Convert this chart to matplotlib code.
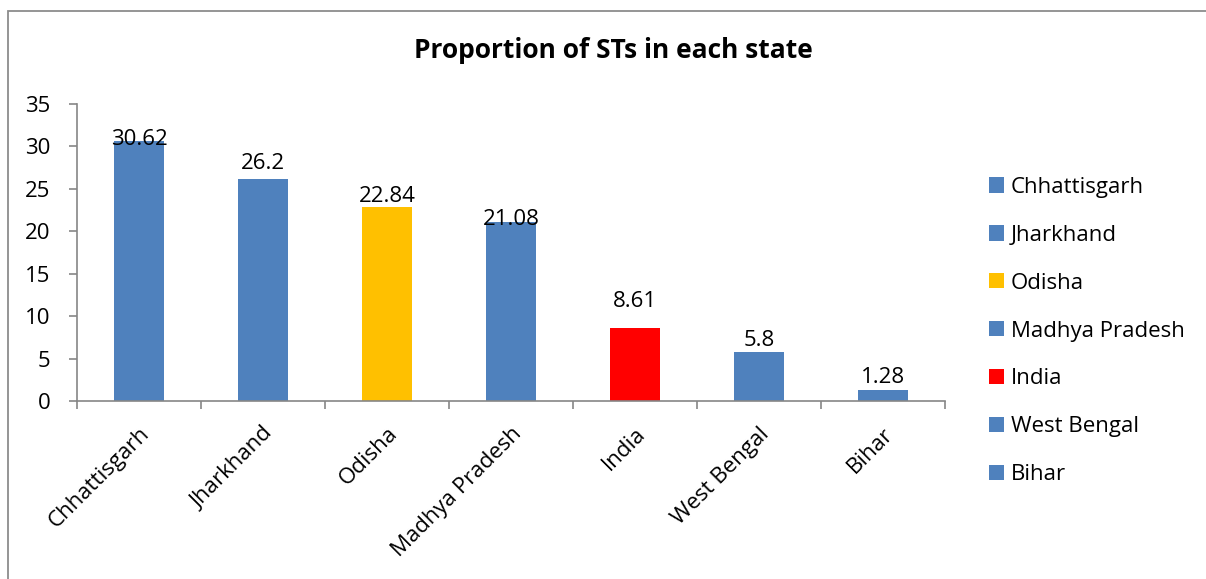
import matplotlib
matplotlib.use("Agg")
import matplotlib.pyplot as plt
from matplotlib.patches import Patch, Rectangle

states = ["Chhattisgarh", "Jharkhand", "Odisha", "Madhya Pradesh", "India", "West Bengal", "Bihar"]
st_share = [30.62, 26.2, 22.84, 21.08, 8.61, 5.8, 1.28]
bar_colors = ["#4F81BD", "#4F81BD", "#FFC000", "#4F81BD", "#FF0000", "#4F81BD", "#4F81BD"]
y_ticks = [0, 5, 10, 15, 20, 25, 30, 35]
# vertical nudge of each value label above its bar top, in points
label_lift = [-2.9, 7.2, 3.6, -2.2, 15.1, 4.3, 5.0]

plt.rcParams["font.family"] = ["Open Sans", "DejaVu Sans"]
W, H = 1206, 579
FS = 16
fig = plt.figure(figsize=(W / 100, H / 100), dpi=100)

# chart frame (only left and top edges fall inside the image)
fig.patches.append(Rectangle((8 / W, -0.1), 1.2, 1 - 11 / H + 0.1, transform=fig.transFigure,
                             fill=False, edgecolor="#8c8c8c", linewidth=1.3))

ax = fig.add_axes([77 / W, 1 - 401 / H, (945 - 77) / W, (401 - 104) / H])
x = list(range(len(states)))
ax.bar(x, st_share, width=0.4, color=bar_colors)

for xi, v, dy in zip(x, st_share, label_lift):
    ax.annotate(f"{v:g}", (xi, v), xytext=(0, dy), textcoords="offset points",
                ha="center", va="baseline", fontsize=FS, color="black")

ax.set_xlim(-0.5, len(states) - 0.5)
ax.set_ylim(0, 35)
ax.set_yticks(y_ticks)
ax.set_xticks(x)
ax.set_xticklabels(states, rotation=45, ha="right", va="top", rotation_mode="anchor", fontsize=FS)
ax.set_xticks([i - 0.5 for i in range(len(states) + 1)], minor=True)
ax.tick_params(axis="x", which="major", length=0, pad=16)
ax.tick_params(axis="x", which="minor", length=6, width=1.2, color="#868686", direction="out")
ax.tick_params(axis="y", length=6, width=1.2, color="#868686", labelsize=FS, pad=13)

for s in ["top", "right"]:
    ax.spines[s].set_visible(False)
for s in ["left", "bottom"]:
    ax.spines[s].set_color("#868686")
    ax.spines[s].set_linewidth(1.2)

fig.text(613 / W, 1 - 50 / H, "Proportion of STs in each state", ha="center", va="center",
         fontsize=19, fontweight="bold")

handles = [Patch(facecolor=c, edgecolor="none") for c in bar_colors]
fig.legend(handles, states, loc="center left", bbox_to_anchor=(978 / W, 1 - 331 / H),
           frameon=False, fontsize=FS, handlelength=0.68, handleheight=0.68,
           handletextpad=0.3, labelspacing=1.21, borderpad=0)

fig.savefig("out.png", dpi=100)
